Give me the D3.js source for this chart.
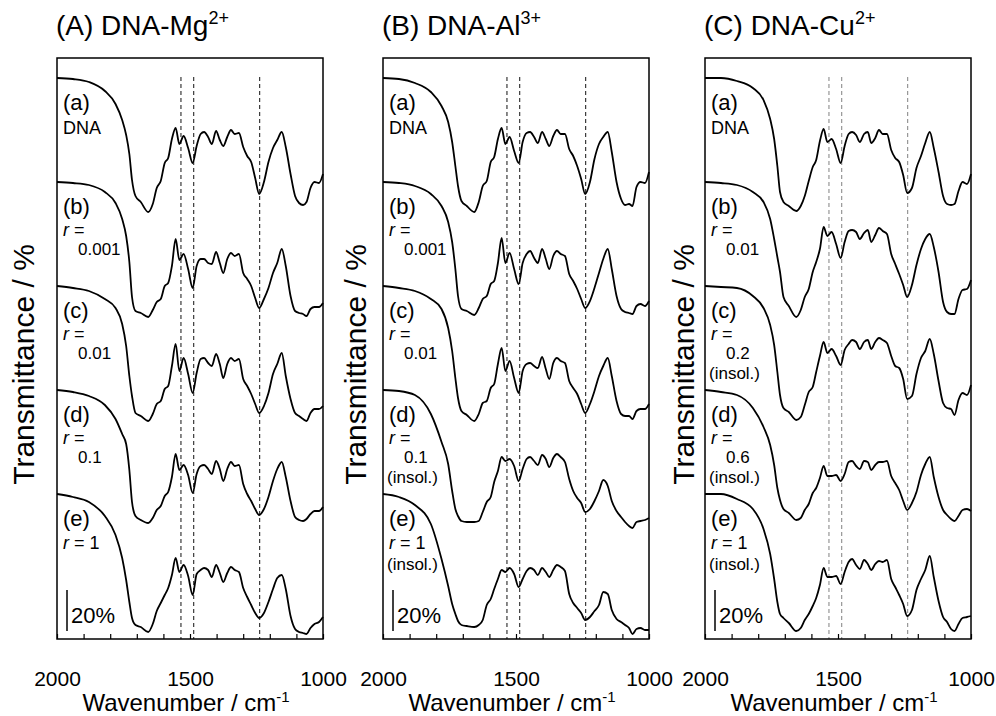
<!DOCTYPE html>
<html>
<head>
<meta charset="utf-8">
<script src="https://cdn.jsdelivr.net/npm/d3@7"></script>
<style>
  body { margin: 0; background: #fff; }
  text { font-family: "Liberation Sans", Arial, sans-serif; fill: #000; }
</style>
</head>
<body>
<svg id="chart" width="996" height="716"></svg>
<script>
// wavenumber grid (cm-1) the spectra were read at
const wavenumbers = [2000,1940,1880,1820,1780,1755,1740,1728,1718,1705,1685,1657,1640,1625,1610,1595,1582,1568,1554,1540,1524,1507,1490,1475,1460,1447,1432,1418,1402,1388,1375,1360,1346,1332,1316,1300,1285,1270,1255,1240,1222,1205,1188,1172,1155,1140,1122,1105,1090,1075,1062,1047,1032,1015,1000];

// transmittance (%) of each trace, before stacking offset
const mgA = [72.5,72,70.5,66,59.5,51.5,44,34.5,21.5,13.5,10.5,5.5,9.5,17.5,21,30,32.5,42,47.5,39.5,43.5,37.5,30,38.5,44.5,45.5,43,39.5,46,41.5,38.5,43,46.5,44.5,45,38,33.5,30.5,22.5,14.5,20.5,30.5,37.5,41.5,45.5,38,24.5,13.5,10,9,10.5,17.5,20.5,20,24.5];
const mgB = [72.5,72,71,67.5,62,54,45.5,32.5,15,8,7,5,8.5,12.5,14,20.5,22,30.5,44,33.5,36.5,29,19.5,30.5,34,34,32,31.5,37.5,32,27,34,37,35.5,36.5,27,24,20.5,14.5,9.5,14,19.5,27,32,39,30.5,15.5,8,7,6.5,5.5,9,10,10,12];
const mgC = [72.5,71.5,70,66,61.5,53.5,42.5,27.5,17.5,9,7.5,5,8.5,13.5,15,21,22.5,32.5,43.5,30,36.5,28.5,19,29,36,36.5,34,32.5,38.5,33.5,26.5,33.5,36.5,35,36,26,22.5,18.5,13.5,9,12.5,19,28.5,33.5,39,27.5,16,9,7.5,6,5,9,11,11,12.5];
const mgD = [72.5,71.5,69.5,65,58,50.5,45.5,32.5,16.5,9.5,7.5,6,8.5,12.5,14.5,19.5,21.5,29,40.5,32.5,35,30,21,30.5,34.5,35,33,30.5,37,33,27,33,36.5,34.5,35,25.5,20.5,17,13,10,13,19,27,33,36.5,29,17,9,7.5,7,8,10.5,12,12,14];
const mgE = [72.5,71,68.5,61.5,52,40.5,29.5,18.5,10.5,7,6,3.5,7.5,14,18,22,25.5,32,40.5,33.5,37,31.5,22,32.5,34.5,35.5,34.5,31,37,33,28.5,33,36,34.5,33.5,25.5,21,17,13,10.5,13,18.5,25,30.5,32,25,11.5,5,3.5,3,2.5,5.5,7.5,8.5,11];

const alA = [72.5,72,70,65.5,58.5,50.5,40.5,28.5,18.5,11,8.5,5.5,10.5,18.5,21,30.5,33,42,47.5,39.5,43,36,30,40.5,45,45.5,43,40,45.5,42,38.5,43.5,46.5,44.5,44.5,37,33.5,28.5,22,14.5,20.5,32,39.5,43,45.5,35.5,20.5,12,9,9.5,8.5,18,20.5,20,25.5];
const alB = [72.5,72,70.5,66.5,60.5,52.5,42.5,29,15.5,9,8,6,9.5,14,15.5,21.5,23,32,44.5,32,37,29,21.5,32,36.5,38,34.5,32,39,34,29,35.5,38,36.5,35.5,26.5,23,19,14,9.5,13,19.5,27,34,39,29,15.5,9,7.5,7,6.5,10.5,11.5,10.5,13];
const alC = [72.5,71.5,70,66,61,51.5,40,26.5,16.5,10,8,5,8.5,14,15,21.5,23.5,33.5,41.5,30,35,26.5,19,30,33.5,34,32.5,31.5,37,31,26,34,36.5,35,34,25,21.5,18.5,13.5,9,13.5,20,27.5,32.5,36.5,27.5,15,8.5,7.5,7.5,6,10,11,11,13.5];
const alD = [72.5,72,70,60.5,46.5,35.5,22,13,9.5,7,6.5,6.5,7,11.5,16.5,19,26.5,32,39,37,38,34.5,27,33,38,39,37,35,40,38,34,38.5,40.5,39,36.5,28,22,18.5,16,11.5,13,17,22,27.5,24.5,17,12,9,6.5,4.5,3.5,6.5,7,7.5,8.5];
const alE = [72.5,71,67,57.5,40,26.5,17.5,12.5,9,7,6.5,6,7,9.5,17,20,25,30,34.5,33.5,35.5,32.5,26,30,34,35.5,34.5,32,35.5,33.5,31,34.5,37,36,34,22.5,18,15.5,13,9.5,11,14,17,23.5,22.5,14.5,10,8.5,7,5.5,2.5,5,5.5,4.5,4.5];

const cuA = [72.5,72.5,71,67.5,61.5,52,42,28.5,15.5,10.5,8.5,6,8.5,13.5,21,28,31.5,41,47,40.5,42,37,30,38.5,44.5,45.5,44,40.5,44.5,45.5,40,42.5,46.5,44.5,44.5,36.5,32.5,30.5,24,15,17.5,27.5,33.5,40,45.5,37.5,25.5,13.5,9.5,9,9.5,16,20.5,19.5,24.5];
const cuB = [72.5,72,71,67.5,62.5,54,44,35,27.5,15,10.5,5,8.5,15,19,27.5,32.5,39,50,45.5,47.5,41.5,34.5,42.5,48,48.5,47.5,44,47,48.5,42.5,46,49.5,48,46.5,36.5,31.5,26.5,21,15,21,31,39,44,46.5,40,27.5,12.5,7.5,6.5,6.5,14,18.5,19,23.5];
const cuC = [72.5,72,71.5,67.5,61.5,53,43,29.5,18,11.5,9.5,5.5,7,13,19.5,22,29.5,37.5,44.5,39,41,37.5,33,40.5,43.5,45.5,44.5,41,44.5,45.5,41,44.5,46.5,45.5,44,37.5,32.5,31.5,26,16,17.5,28.5,36.5,40,46,38.5,25,14,11.5,11,8,15.5,19,18,23];
const cuD = [72.5,71.5,70,63.5,54,45,35,23.5,17.5,13,11,7.5,8.5,12.5,15.5,21,23.5,28.5,34.5,29.5,29.5,30,27,30.5,36.5,37,34.5,33,37,36.5,32.5,35,36.5,36.5,37,29.5,26,22.5,17,12.5,16,21.5,30,35.5,39,29,19,12.5,10,8,7,9.5,12.5,13,12];
const cuE = [72.5,72.5,70,65,55,42.5,30,18.5,12.5,10.5,8,4,5.5,9.5,12.5,16.5,20.5,27,35.5,31,31,31.5,27.5,33.5,38.5,40,37,35,39.5,37.5,34.5,37.5,39,38.5,39.5,30,26,22,17.5,11.5,14.5,24.5,30,34.5,41.5,31,19,11,8.5,5,4,7.5,10.5,11,11.5];

// stacking offsets (%) for traces (a)..(e)
const traceOffsets = [208, 156, 104, 52, 0];

const panelTitles = ['(A) DNA-Mg', '(B) DNA-Al', '(C) DNA-Cu'];
const titleCharges = ['2+', '3+', '2+'];
const traceTags = ['(a)', '(b)', '(c)', '(d)', '(e)'];
const mgRatios = ['DNA', '0.001', '0.01', '0.1', '1'];
const alRatios = ['DNA', '0.001', '0.01', '0.1', '1'];
const cuRatios = ['DNA', '0.01', '0.2', '0.6', '1'];
const mgInsoluble = [false, false, false, false, false];
const alInsoluble = [false, false, false, true, true];
const cuInsoluble = [false, false, true, true, true];

// marker bands (cm-1)
const bandLines = [1534, 1486, 1238];
const xTickValues = [2000, 1900, 1800, 1700, 1600, 1500, 1400, 1300, 1200, 1100, 1000];
const xTickLabels = [2000, 1500, 1000];

const panels = [
  { traces: [mgA, mgB, mgC, mgD, mgE], ratios: mgRatios, insol: mgInsoluble, dash: '#111' },
  { traces: [alA, alB, alC, alD, alE], ratios: alRatios, insol: alInsoluble, dash: '#111' },
  { traces: [cuA, cuB, cuC, cuD, cuE], ratios: cuRatios, insol: cuInsoluble, dash: '#808080' }
];

const panelLefts = [57, 383, 705];
const plotTop = 58;
const width = 266;
const height = 581;
const yLabelX = [23, 355, 683];

const svg = d3.select('#chart');

const x = d3.scaleLinear().domain([2000, 1000]).range([0, width]);
const y = d3.scaleLinear().domain([0, 290.5]).range([height, 0]);

const line = d3.line()
  .x((d, i) => x(wavenumbers[i]))
  .y(d => y(d))
  .curve(d3.curveMonotoneX);

panels.forEach((p, pi) => {
  const g = svg.append('g')
    .attr('transform', 'translate(' + panelLefts[pi] + ',' + plotTop + ')');

  // title
  const title = svg.append('text')
    .attr('x', panelLefts[pi] - 1)
    .attr('y', 35)
    .attr('font-size', 28)
    .text(panelTitles[pi]);
  title.append('tspan')
    .attr('dy', -11)
    .attr('font-size', 18)
    .text(titleCharges[pi]);

  // dashed band markers
  g.selectAll('.band')
    .data(bandLines)
    .enter()
    .append('line')
    .attr('x1', d => x(d))
    .attr('x2', d => x(d))
    .attr('y1', y(281))
    .attr('y2', height)
    .attr('stroke', p.dash)
    .attr('stroke-width', 1)
    .attr('stroke-dasharray', '4,3');

  // spectra
  g.selectAll('.trace')
    .data(p.traces)
    .enter()
    .append('path')
    .attr('d', (t, k) => line(t.map(v => v + traceOffsets[k])))
    .attr('fill', 'none')
    .attr('stroke', '#000')
    .attr('stroke-width', 1.8)
    .attr('stroke-linejoin', 'round');

  // trace labels
  p.traces.forEach((t, k) => {
    const y0 = y(t[0] + traceOffsets[k]);
    const lines = [];
    lines.push({ txt: traceTags[k], dx: 6, dy: 32, size: 22 });
    if (k === 0) {
      lines.push({ txt: p.ratios[k], dx: 6, dy: 56, size: 18 });
    } else if (k === 4) {
      lines.push({ txt: ' = ' + p.ratios[k], r: true, dx: 6, dy: 55, size: 18 });
      if (p.insol[k]) lines.push({ txt: '(insol.)', dx: 4, dy: 76, size: 17 });
    } else {
      lines.push({ txt: ' =', r: true, dx: 6, dy: 54, size: 18 });
      lines.push({ txt: p.ratios[k], dx: 21, dy: 73, size: 17 });
      if (p.insol[k]) lines.push({ txt: '(insol.)', dx: 4, dy: 93, size: 17 });
    }
    lines.forEach(l => {
      const tx = g.append('text')
        .attr('x', l.dx)
        .attr('y', y0 + l.dy)
        .attr('font-size', l.size);
      if (l.r) tx.append('tspan').attr('font-style', 'italic').text('r');
      tx.append('tspan').text(l.txt);
    });
  });

  // 20% scale bar
  g.append('line')
    .attr('x1', 10).attr('x2', 10)
    .attr('y1', y(4)).attr('y2', y(24.5))
    .attr('stroke', '#000').attr('stroke-width', 1.5);
  g.append('text')
    .attr('x', 14)
    .attr('y', y(8))
    .attr('font-size', 22)
    .text('20%');

  // bottom axis, inward ticks
  const axis = g.append('g')
    .attr('transform', 'translate(0,' + height + ')')
    .call(d3.axisBottom(x)
      .tickValues(xTickValues)
      .tickSize(-5)
      .tickPadding(32)
      .tickFormat(d => xTickLabels.includes(d) ? d : ''));
  axis.select('.domain').remove();
  axis.selectAll('line').attr('stroke', '#000').attr('stroke-width', 1.2);
  axis.selectAll('text')
    .attr('font-size', 21)
    .attr('font-family', '"Liberation Sans", Arial, sans-serif')
    .attr('fill', '#000');

  // frame
  g.append('rect')
    .attr('width', width)
    .attr('height', height)
    .attr('fill', 'none')
    .attr('stroke', '#000')
    .attr('stroke-width', 1.5);

  // x-axis title
  const xt = svg.append('text')
    .attr('x', panelLefts[pi] + width / 2 - 4)
    .attr('y', 711)
    .attr('text-anchor', 'middle')
    .attr('font-size', 24)
    .text('Wavenumber / cm');
  xt.append('tspan').attr('dy', -9).attr('font-size', 15).text('-1');

  // y-axis title
  svg.append('text')
    .attr('transform', 'translate(' + yLabelX[pi] + ',' + (plotTop + height / 2 + 16) + ') rotate(-90)')
    .attr('text-anchor', 'middle')
    .attr('dy', '0.35em')
    .attr('font-size', 30)
    .text('Transmittance / %');
});
</script>
</body>
</html>
